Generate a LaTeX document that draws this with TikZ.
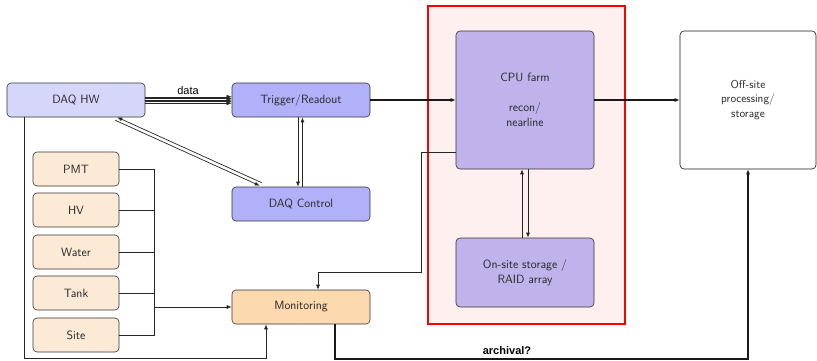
\documentclass[tikz,border=0pt]{standalone}
\usepackage{fontspec}
\newfontfamily\arialf{Liberation Sans}
\usetikzlibrary{arrows.meta,calc}
\definecolor{hwc}{HTML}{D6D6FB}
\definecolor{trc}{HTML}{B1B1FA}
\definecolor{monc}{HTML}{FDD9B0}
\definecolor{senc}{HTML}{FDEAD6}
\definecolor{cpuc}{HTML}{C1B2EC}
\definecolor{redfill}{HTML}{FFF0F0}
\begin{document}
\begin{tikzpicture}[x=1pt,y=-1pt,
  box/.style={draw=black!80, line width=0.6pt, rounded corners=4pt, minimum width=138pt, minimum height=34pt, inner sep=0pt, font=\sffamily\fontsize{12}{15}\selectfont, text=black!85, align=center},
  sensor/.style={box, fill=senc, minimum width=86pt},
  conn/.style={line width=0.7pt, draw=black!85},
  bigconn/.style={line width=1.8pt, draw=black!90},
  >={Latex[length=5pt,width=4pt]}]
\useasboundingbox (0,0) rectangle (817,360);
% red region
\draw[red, fill=redfill, line width=1.6pt] (428,6) rectangle (625,324);
% nodes
\node[box, fill=hwc] (hw) at (76,100) {DAQ HW};
\node[box, fill=trc] (trig) at (301,100) {Trigger/Readout};
\node[box, fill=trc] (ctrl) at (301,204) {DAQ Control};
\node[box, fill=monc] (mon) at (301,307) {Monitoring};
\node[sensor] (pmt) at (76,169) {PMT};
\node[sensor] (hv) at (76,210) {HV};
\node[sensor] (water) at (76,252) {Water};
\node[sensor] (tank) at (76,293) {Tank};
\node[sensor] (site) at (76,335) {Site};
\node[box, fill=cpuc, minimum height=138pt] (cpu) at (525,100) {CPU farm\\[15pt]recon/\\nearline};
\node[box, fill=cpuc, minimum height=69pt] (stor) at (525,272.5) {On-site storage /\\RAID array};
\node[box, fill=white, draw=black!90, minimum width=136pt, minimum height=138pt, font=\sffamily\fontsize{11.5}{14.5}\selectfont] (off) at (748,100) {Off-site\\processing/\\storage};
% data bundle
\foreach \d in {-3.2,-1.6,0,1.6,3.2}
  \draw[conn, line width=0.5pt, ->] ([yshift=\d pt]hw.east) -- ([yshift=\d pt]trig.west);
\node[font=\arialf\fontsize{11}{13}\selectfont, anchor=base] (datalbl) at (188,94) {data};
% HW <-> Control (two parallel lines)
\draw[conn, ->] ([shift={(30pt,4pt)}]ctrl.north west) -- ([shift={(-28pt,0pt)}]hw.south east);
\draw[conn, ->] ([shift={(-30pt,-3pt)}]hw.south east) -- ([shift={(28pt,1pt)}]ctrl.north west);
% Trigger <-> Control
\draw[conn, ->] ([xshift=-3pt]trig.south) -- ([xshift=-3pt]ctrl.north);
\draw[conn, ->] ([xshift=1.5pt]ctrl.north) -- ([xshift=1.5pt]trig.south);
% Trigger -> CPU, CPU -> Off-site
\draw[bigconn, ->] (trig.east) -- (cpu.west);
\draw[bigconn, ->] (cpu.east) -- (off.west);
% CPU <-> storage
\draw[conn, ->] ([xshift=-3pt]stor.north) -- ([xshift=-3pt]cpu.south);
\draw[conn, ->] ([xshift=3pt]cpu.south) -- ([xshift=3pt]stor.north);
% CPU -> Monitoring
\draw[conn, ->] ([yshift=-52pt]cpu.west) -| (421,272) -| ([xshift=17pt]mon.north);
% sensors bus
\draw[conn] (pmt.east) -- ++(35,0) |- (site.east);
\draw[conn] (hv.east) -- ++(35,0);
\draw[conn] (water.east) -- ++(35,0);
\draw[conn] (tank.east) -- ++(35,0);
\coordinate (busj) at ([xshift=35pt]tank.east |- mon.west);
\draw[conn, ->] (busj) -- (mon.west);
% HW -> Monitoring
\draw[conn, ->] ([xshift=-52pt]hw.south) |- ([shift={(-35pt,-34.5pt)}]mon.south) -- ([xshift=-35pt]mon.south);
% archival
\draw[bigconn, ->] ([xshift=34pt]mon.south) |- ([yshift=-189.5pt]off.south) -- (off.south);
\node[font=\arialf\bfseries\fontsize{11}{13}\selectfont, anchor=base] (arch) at (507,354) {archival?};
\end{tikzpicture}
\end{document}
